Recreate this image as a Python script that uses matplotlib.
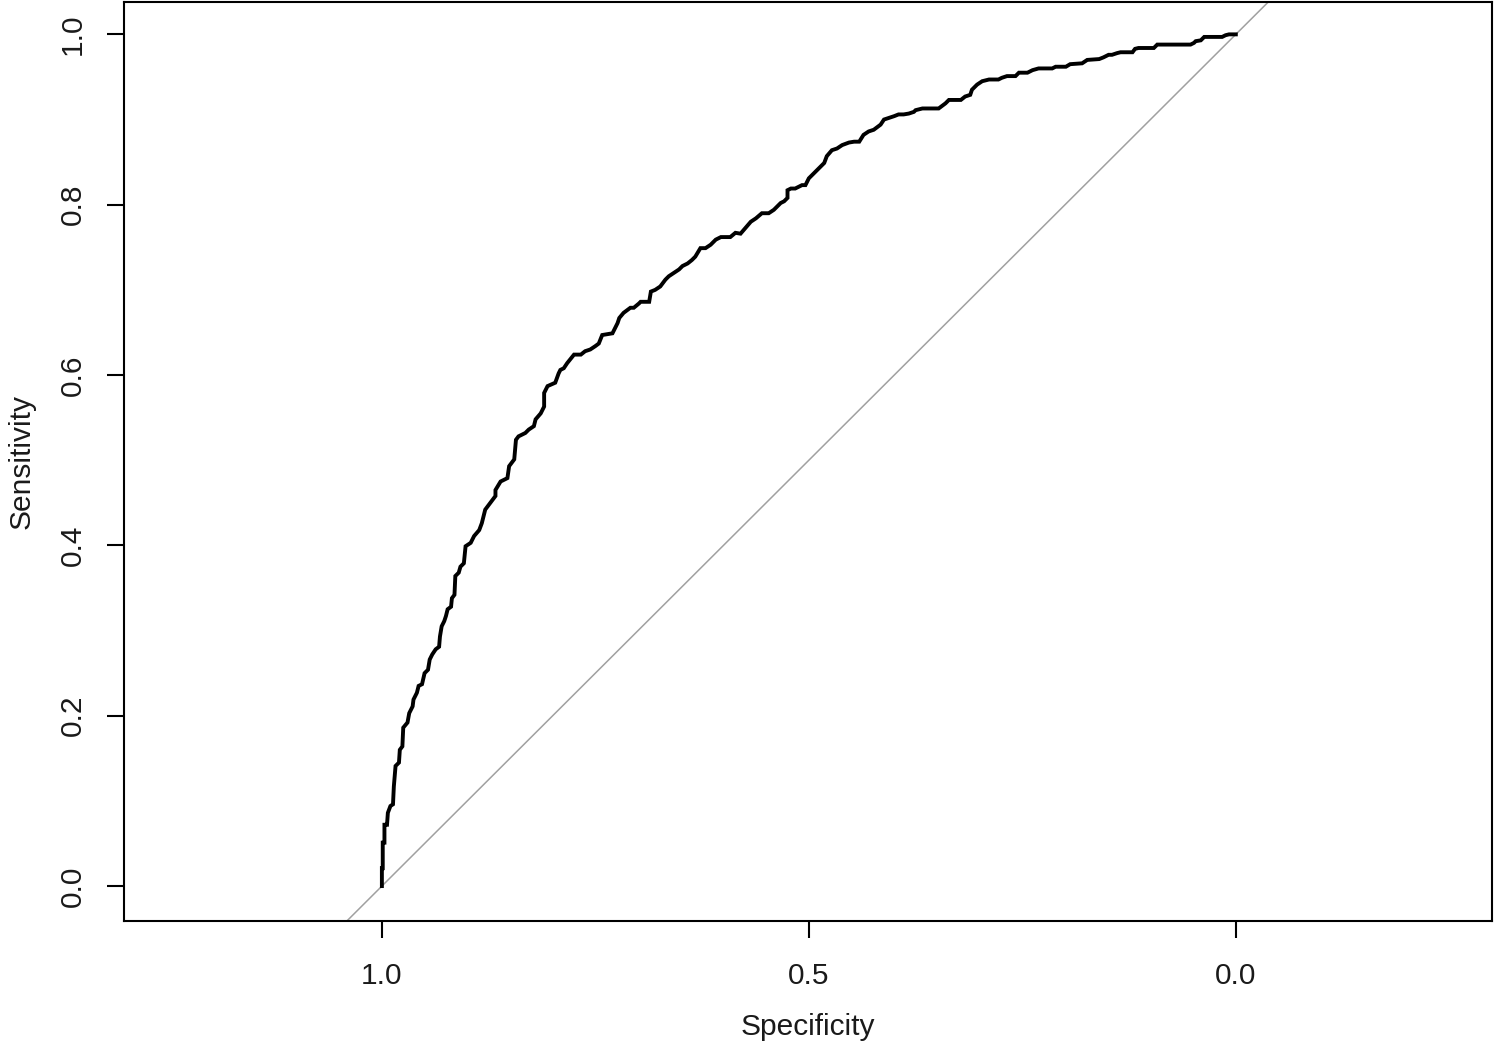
import matplotlib
matplotlib.use("Agg")
import matplotlib.pyplot as plt

plt.rcParams['font.family'] = ['Liberation Sans', 'DejaVu Sans']

# ROC curve (specificity, sensitivity)
specificity = [
    1.000, 1.000, 0.999, 0.999, 0.997, 0.997, 0.994, 0.993, 0.990, 0.987,
    0.986, 0.984, 0.980, 0.979, 0.976, 0.975, 0.970, 0.968, 0.964, 0.963,
    0.959, 0.957, 0.953, 0.950, 0.946, 0.944, 0.941, 0.937, 0.933, 0.932,
    0.930, 0.927, 0.925, 0.923, 0.919, 0.918, 0.915, 0.914, 0.910, 0.908,
    0.904,
    0.902, 0.896, 0.892, 0.886, 0.883, 0.879, 0.873, 0.867, 0.867, 0.861,
    0.853, 0.851, 0.845, 0.843, 0.840, 0.832, 0.828, 0.822, 0.820, 0.814,
    0.810, 0.810, 0.806, 0.797, 0.793, 0.791, 0.787, 0.783, 0.775, 0.767,
    0.762, 0.756, 0.750, 0.746, 0.742,
    0.730, 0.724, 0.722, 0.717, 0.709, 0.705, 0.699, 0.697, 0.687, 0.685,
    0.680, 0.674, 0.668, 0.664, 0.658, 0.652, 0.648, 0.642, 0.637, 0.633,
    0.627, 0.621, 0.615, 0.609, 0.603, 0.592, 0.586, 0.580, 0.574, 0.568,
    0.562, 0.555, 0.547, 0.541, 0.533, 0.529, 0.525, 0.525, 0.521, 0.516,
    0.508, 0.504, 0.500, 0.496,
    0.482, 0.479, 0.473, 0.467, 0.461, 0.453, 0.447, 0.441, 0.436, 0.430,
    0.424,
    0.416, 0.412, 0.406, 0.400, 0.395, 0.389, 0.383, 0.377, 0.375, 0.367,
    0.348, 0.340, 0.336, 0.322, 0.317, 0.311, 0.309, 0.303, 0.297, 0.289,
    0.278, 0.274, 0.268, 0.258, 0.254, 0.244, 0.238, 0.231, 0.215, 0.211,
    0.199, 0.194, 0.180, 0.174, 0.160, 0.155, 0.149, 0.145, 0.139, 0.135,
    0.121, 0.118, 0.114, 0.096, 0.092, 0.053, 0.049, 0.047, 0.041, 0.037,
    0.016, 0.012, 0.008, 0.004, 0.000,
]
sensitivity = [
    0.000, 0.021, 0.021, 0.051, 0.051, 0.072, 0.072, 0.086, 0.094, 0.096,
    0.117, 0.141, 0.145, 0.160, 0.164, 0.186, 0.192, 0.203, 0.211, 0.219,
    0.227, 0.235, 0.237, 0.250, 0.254, 0.266, 0.272, 0.278, 0.281, 0.293,
    0.305, 0.311, 0.317, 0.325, 0.328, 0.338, 0.342, 0.364, 0.368, 0.375,
    0.379,
    0.399, 0.403, 0.411, 0.418, 0.426, 0.442, 0.450, 0.458, 0.465, 0.475,
    0.479, 0.493, 0.501, 0.524, 0.528, 0.532, 0.536, 0.540, 0.548, 0.555,
    0.563, 0.579, 0.587, 0.591, 0.602, 0.606, 0.608, 0.614, 0.624, 0.624,
    0.628, 0.630, 0.634, 0.637, 0.647,
    0.649, 0.661, 0.667, 0.673, 0.679, 0.679, 0.684, 0.686, 0.686, 0.698,
    0.700, 0.704, 0.712, 0.716, 0.720, 0.724, 0.728, 0.731, 0.735, 0.739,
    0.749, 0.749, 0.753, 0.759, 0.762, 0.762, 0.767, 0.766, 0.773, 0.780,
    0.784, 0.790, 0.790, 0.794, 0.802, 0.804, 0.808, 0.817, 0.819, 0.819,
    0.823, 0.823, 0.831, 0.835,
    0.849, 0.857, 0.864, 0.866, 0.870, 0.873, 0.874, 0.874, 0.882, 0.886,
    0.888,
    0.894, 0.900, 0.902, 0.904, 0.906, 0.906, 0.907, 0.909, 0.911, 0.913,
    0.913, 0.919, 0.923, 0.923, 0.927, 0.929, 0.935, 0.941, 0.945, 0.947,
    0.947, 0.949, 0.951, 0.951, 0.955, 0.955, 0.958, 0.960, 0.960, 0.962,
    0.962, 0.965, 0.966, 0.970, 0.971, 0.973, 0.976, 0.976, 0.978, 0.979,
    0.979, 0.983, 0.984, 0.984, 0.988, 0.988, 0.990, 0.992, 0.993, 0.997,
    0.997, 0.999, 1.000, 1.000, 1.000,
]

x_ticks = [1.0, 0.5, 0.0]
x_tick_labels = ["1.0", "0.5", "0.0"]
y_ticks = [0.0, 0.2, 0.4, 0.6, 0.8, 1.0]
y_tick_labels = ["0.0", "0.2", "0.4", "0.6", "0.8", "1.0"]

fig = plt.figure(figsize=(15.02, 10.52), dpi=100)
ax = fig.add_axes([124 / 1502, 1 - 921 / 1052, 1368 / 1502, 919 / 1052])

ax.set_xlim(1.302, -0.300)
ax.set_ylim(-0.041, 1.038)

ax.axline((1.0, 0.0), (0.0, 1.0), color="#a0a0a0", lw=1.1, zorder=1)
ax.plot(specificity, sensitivity, color="black", lw=2.8, zorder=3,
        solid_joinstyle="miter")

for s in ax.spines.values():
    s.set_linewidth(1.5)
    s.set_color("black")

ax.set_xticks(x_ticks)
ax.set_xticklabels(x_tick_labels)
ax.set_yticks(y_ticks)
ax.set_yticklabels(y_tick_labels, rotation=90, va="center")
ax.tick_params(axis="both", direction="out", length=12.5, width=1.5,
               labelsize=21.5, colors="black", labelcolor="#1a1a1a")
ax.tick_params(axis="x", pad=17)
ax.tick_params(axis="y", pad=14)

ax.set_xlabel("Specificity", fontsize=21.5, color="#1a1a1a", va="center")
ax.xaxis.set_label_coords(0.5, -(1027 - 921) / 919)
ax.set_ylabel("Sensitivity", fontsize=21.5, color="#1a1a1a", va="center")
ax.yaxis.set_label_coords(-(124 - 22) / 1368, 0.5)

fig.savefig("out.png", dpi=100, facecolor="white")
